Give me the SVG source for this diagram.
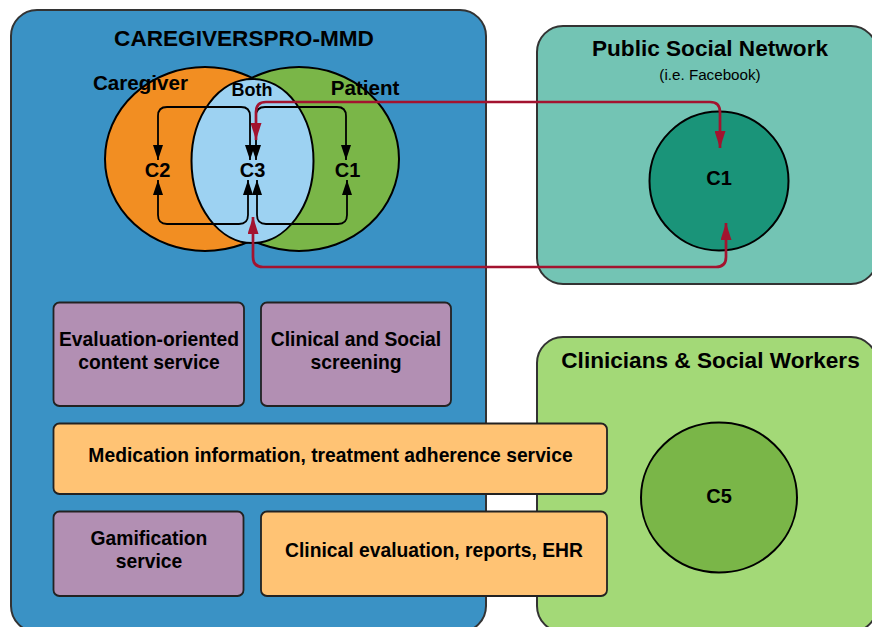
<svg xmlns="http://www.w3.org/2000/svg" width="872" height="627" viewBox="0 0 872 627">
<defs>
<style>
text{font-family:"Liberation Sans",Arial,sans-serif;font-weight:bold;fill:#000;text-anchor:middle}
.title{font-size:22.6px}
.lbl{font-size:20px}
.vl{font-size:20.6px}
.box{font-size:19.3px}
.sub{font-size:15.2px;font-weight:normal}
.frame{stroke:#333;stroke-width:2}
.svc{stroke:#222;stroke-width:1.8}
.blk{fill:none;stroke:#000;stroke-width:1.8;marker-start:url(#ab);marker-end:url(#ab)}
.red{fill:none;stroke:#A3132F;stroke-width:2.7;marker-start:url(#ar);marker-end:url(#ar)}
.ell{stroke:#000;stroke-width:2}
</style>
<marker id="ab" markerUnits="userSpaceOnUse" markerWidth="15" markerHeight="10" refX="15" refY="5" orient="auto-start-reverse" viewBox="0 0 15 10"><path d="M0,0 L15,5 L0,10 z" fill="#000"/></marker>
<marker id="ar" markerUnits="userSpaceOnUse" markerWidth="17" markerHeight="11" refX="17" refY="5.5" orient="auto-start-reverse" viewBox="0 0 17 11"><path d="M0,0 L17,5.5 L0,11 z" fill="#A3132F"/></marker>
</defs>
<rect width="872" height="627" fill="#fff"/>

<g id="caregiverspro">
<rect class="frame" x="11" y="10" width="475" height="622" rx="26" fill="#3A92C5"/>
<text class="title" x="244" y="46">CAREGIVERSPRO-MMD</text>
</g>

<g id="public-social-network">
<rect class="frame" x="537" y="26" width="340" height="258" rx="26" fill="#73C4B4"/>
<text class="title" x="710" y="56">Public Social Network</text>
<text class="sub" x="710" y="80">(i.e. Facebook)</text>
</g>

<g id="clinicians">
<rect class="frame" x="537" y="337" width="340" height="295" rx="26" fill="#A3D977"/>
<text class="title" x="710.5" y="368">Clinicians &amp; Social Workers</text>
</g>

<g id="caregiver">
<ellipse class="ell" cx="205" cy="159" rx="100" ry="92" fill="#F28E22"/>
</g>
<g id="patient">
<ellipse class="ell" cx="299" cy="159" rx="100" ry="92" fill="#7AB648"/>
</g>
<g id="both">
<ellipse class="ell" cx="252.5" cy="161" rx="61" ry="82" fill="#9DD2F2"/>
</g>
<text class="vl" x="140.5" y="90">Caregiver</text>
<text class="vl" x="365" y="95">Patient</text>
<text style="font-size:18px" x="252" y="96">Both</text>

<g id="c2"><text class="lbl" x="157.5" y="177">C2</text></g>
<g id="c3"><text class="lbl" x="252.5" y="177">C3</text></g>
<g id="c1-platform"><text class="lbl" x="347.5" y="177">C1</text></g>

<g id="c1-public">
<circle class="ell" cx="719" cy="181" r="69.5" fill="#1A9479"/>
<text class="lbl" x="719" y="185">C1</text>
</g>

<g id="c5">
<ellipse class="ell" cx="719" cy="497.5" rx="78" ry="75" fill="#7AB648"/>
<text class="lbl" x="719" y="503">C5</text>
</g>

<g id="evaluation-content">
<rect class="svc" x="53.5" y="302.5" width="190.5" height="103.5" rx="6" fill="#B28FB3"/>
<text class="box" x="149" y="346">Evaluation-oriented</text>
<text class="box" x="149" y="369">content service</text>
</g>
<g id="screening">
<rect class="svc" x="261" y="302.5" width="190" height="103.5" rx="6" fill="#B28FB3"/>
<text class="box" x="356" y="346">Clinical and Social</text>
<text class="box" x="356" y="369">screening</text>
</g>
<g id="medication">
<rect class="svc" x="53.5" y="423.5" width="553.5" height="70.5" rx="6" fill="#FFC374"/>
<text class="box" x="330.5" y="462">Medication information, treatment adherence service</text>
</g>
<g id="gamification">
<rect class="svc" x="53.5" y="511.5" width="190" height="84.5" rx="6" fill="#B28FB3"/>
<text class="box" x="149" y="545">Gamification</text>
<text class="box" x="149" y="568">service</text>
</g>
<g id="clinical-evaluation">
<rect class="svc" x="261" y="511.5" width="346" height="84.5" rx="6" fill="#FFC374"/>
<text class="box" x="434" y="557">Clinical evaluation, reports, EHR</text>
</g>

<g id="connectors">
<path class="blk" d="M250,160 L250,116 Q250,107 241,107 L167,107 Q158,107 158,116 L158,160"/>
<path class="blk" d="M256,160 L256,116 Q256,107 265,107 L337,107 Q346,107 346,116 L346,160"/>
<path class="blk" d="M158,180 L158,215 Q158,224 167,224 L239,224 Q248,224 248,215 L248,180"/>
<path class="blk" d="M257,180 L257,215 Q257,224 266,224 L338,224 Q347,224 347,215 L347,180"/>
<path class="red" d="M256,140 L256,112 Q256,102 266,102 L710,102 Q720,102 720,112 L720,148"/>
<path class="red" d="M253,217 L253,257 Q253,267 263,267 L716,267 Q726,267 726,257 L726,223"/>
</g>
</svg>
